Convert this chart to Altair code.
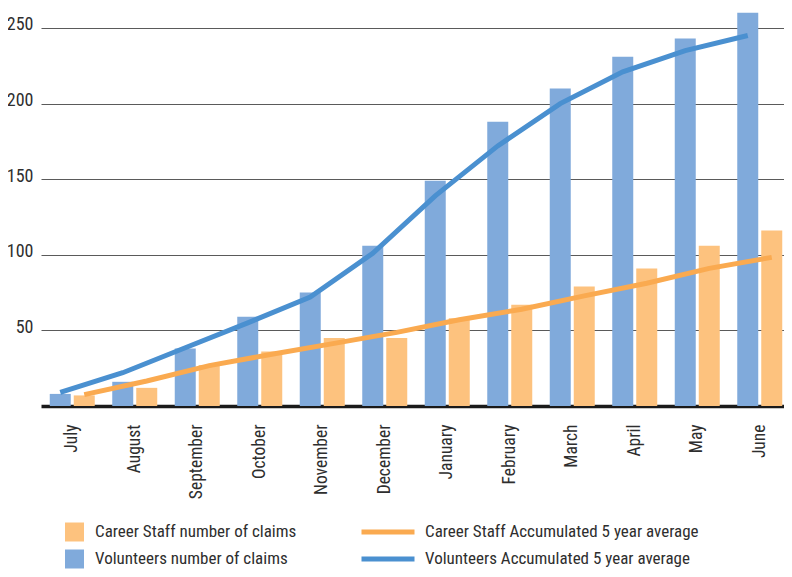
import altair as alt
import pandas as pd

months = ["July", "August", "September", "October", "November", "December",
          "January", "February", "March", "April", "May", "June"]
volunteers_claims = [8, 16, 38, 59, 75, 106, 149, 188, 210, 231, 243, 260]
career_claims = [7, 12, 27, 36, 45, 45, 58, 67, 79, 91, 106, 116]
volunteers_avg = [9, 22, 38.5, 55, 72, 101, 139, 172, 200, 221, 235, 245]
career_avg = [7.5, 16.5, 26.7, 34.2, 41.4, 48.7, 57, 64, 72.8, 81.2, 91, 98.3]

bar_names = ["Career Staff number of claims", "Volunteers number of claims"]
line_names = ["Career Staff Accumulated 5 year average", "Volunteers Accumulated 5 year average"]
y_ticks = [50, 100, 150, 200, 250]

FONT = "Liberation Sans Narrow, Arial Narrow, Roboto Condensed, DejaVu Sans Condensed, sans-serif"
TXT = "#2e2e2e"

rows_b = []
rows_l = []
for i, m in enumerate(months):
    rows_b.append({"month": m, "grp": "V", "series": bar_names[1], "value": volunteers_claims[i]})
    rows_b.append({"month": m, "grp": "C", "series": bar_names[0], "value": career_claims[i]})
    rows_l.append({"month": m, "grp": "V", "series": line_names[1], "value": volunteers_avg[i]})
    rows_l.append({"month": m, "grp": "C", "series": line_names[0], "value": career_avg[i]})
bars_df = pd.DataFrame(rows_b)
lines_df = pd.DataFrame(rows_l)

x_enc = alt.X("month:N", sort=months,
              scale=alt.Scale(paddingInner=0.28, paddingOuter=0.14, range=[0, 750]),
              axis=alt.Axis(title=None, labelAngle=-90, ticks=False, labelPadding=18,
                            labelFont=FONT, labelFontSize=17.5, labelColor=TXT,
                            domainColor="#1a1a1a", domainWidth=3.5, grid=False))
y_enc = alt.Y("value:Q", scale=alt.Scale(domain=[0, 263.2], nice=False),
              axis=alt.Axis(title=None, values=y_ticks, ticks=False, domain=False,
                            labelFont=FONT, labelFontSize=18, labelColor=TXT,
                            labelPadding=8, labelBaseline="alphabetic", labelOffset=2,
                            grid=True, gridColor="#5a5a5a", gridWidth=1.2))
xoff = alt.XOffset("grp:N", scale=alt.Scale(domain=["V", "C"], paddingInner=0.125, paddingOuter=0))

bars = alt.Chart(bars_df).mark_bar().encode(
    x=x_enc, y=y_enc, xOffset=xoff,
    color=alt.Color("series:N",
                    scale=alt.Scale(domain=bar_names, range=["#FDC27E", "#80AADB"]),
                    legend=alt.Legend(title=None, orient="none", legendX=24, legendY=514.5,
                                      symbolType="square", symbolSize=361, symbolStrokeWidth=0,
                                      labelFont=FONT, labelFontSize=17, labelColor=TXT,
                                      labelLimit=0, labelOffset=11, rowPadding=8, padding=0,
                                      direction="vertical")),
)

lines = alt.Chart(lines_df).mark_line(strokeWidth=5).encode(
    x=x_enc, y=y_enc, xOffset=xoff,
    color=alt.Color("series:N",
                    scale=alt.Scale(domain=line_names, range=["#FAAA50", "#4A90D0"]),
                    legend=alt.Legend(title=None, orient="none", legendX=318, legendY=514.5,
                                      symbolType="stroke", symbolSize=2809, symbolStrokeWidth=5,
                                      clipHeight=19,
                                      labelFont=FONT, labelFontSize=17, labelColor=TXT,
                                      labelLimit=0, labelOffset=8, rowPadding=8, padding=0,
                                      direction="vertical")),
)

chart = alt.layer(bars, lines).resolve_scale(color="independent").resolve_legend(color="independent").properties(
    width=743, height=398,
    background="white",
    autosize=alt.AutoSizeParams(type="none"),
    padding={"left": 33, "top": 0, "right": 0, "bottom": 163},
).configure_view(stroke=None)

chart.save("out.html", embed_options={"renderer": "svg", "actions": False})
